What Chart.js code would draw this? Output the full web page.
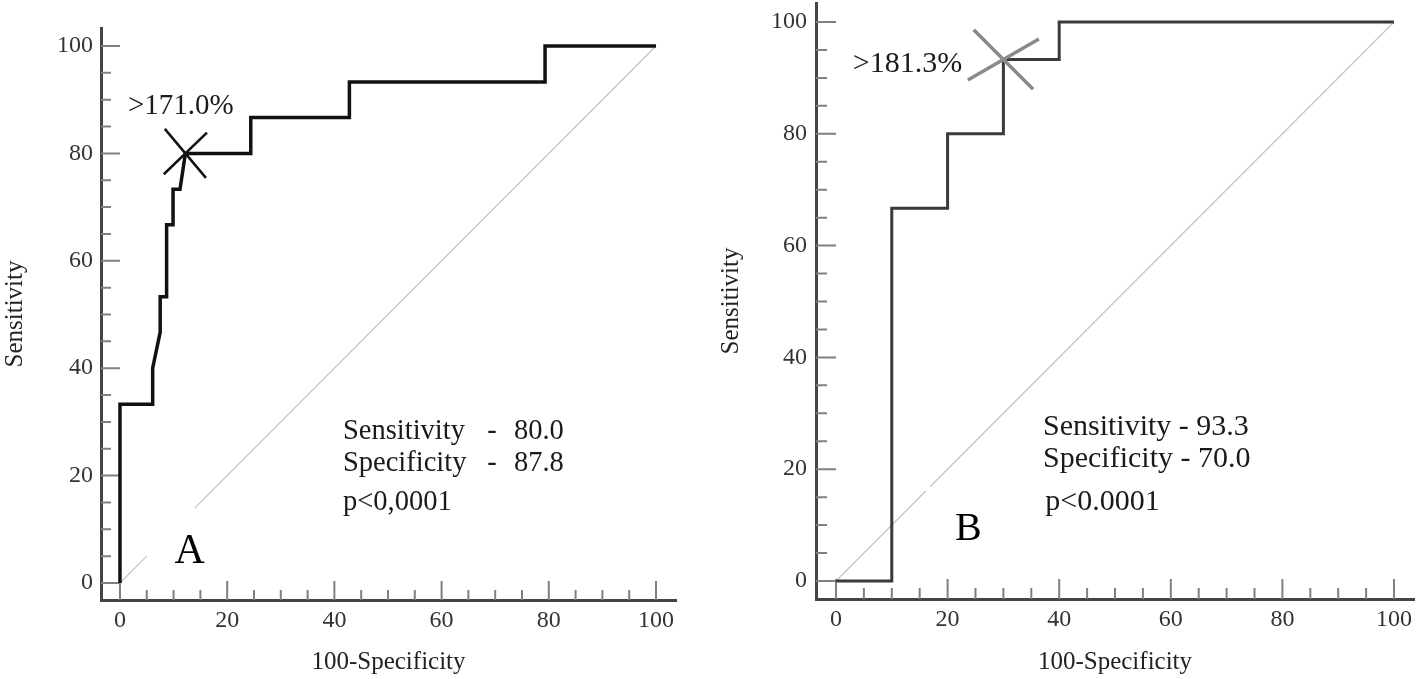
<!DOCTYPE html>
<html>
<head>
<meta charset="utf-8">
<script src="https://cdn.jsdelivr.net/npm/chart.js@4/dist/chart.umd.min.js"></script>
<style>
	body { margin: 0; background: #fff; overflow: hidden; }
	.box { position: absolute; top: 0; height: 679px; }
	#boxA { left: 0; width: 700px; }
	#boxB { left: 700px; width: 718px; }
</style>
</head>
<body>
<div id="boxA" class="box"><canvas id="rocA"></canvas></div>
<div id="boxB" class="box"><canvas id="rocB"></canvas></div>
<script>
// axis labels
var tickValues = [0, 20, 40, 60, 80, 100];

// panel A : ROC curve (100-specificity vs sensitivity)
var fprA  = [0, 0, 6.1, 6.1, 7.5, 7.5, 8.7, 8.7, 9.9, 9.9, 11.2, 12.2, 24.4, 24.4, 42.8, 42.8, 79.3, 79.3, 100];
var sensA = [0, 33.3, 33.3, 40.0, 46.7, 53.3, 53.3, 66.7, 66.7, 73.3, 73.3, 80.0, 80.0, 86.7, 86.7, 93.3, 93.3, 100, 100];
var cutA  = [12.2, 80.0];

// panel B
var fprB  = [0, 10, 10, 20, 20, 30, 30, 40, 40, 100];
var sensB = [0, 0, 66.7, 66.7, 80.0, 80.0, 93.3, 93.3, 100, 100];
var cutB  = [30, 93.3];

// chance diagonal (broken where the labels sit)
var refXA = [0, 5, 9, 13.9, 100];
var refYA = [0, 5, null, 13.9, 100];
var refXB = [0, 16.1, 16.5, 16.9, 100];
var refYB = [0, 16.1, null, 16.9, 100];

var serif = "'Liberation Serif', 'Times New Roman', serif";

function pts(xs, ys) {
	return xs.map(function(x, i) { return { x : x, y : ys[i] }; });
}

var innerTicks = {
	id : "innerTicks",
	beforeDatasetsDraw : function(chart, args, opts) {
		var ctx = chart.ctx, xs = chart.scales.x, ys = chart.scales.y, area = chart.chartArea;
		ctx.save();
		ctx.strokeStyle = opts.color;
		ctx.lineWidth = opts.width;
		ctx.beginPath();
		for (var v = 0; v <= 100; v += 5) {
			var len = v % 20 === 0 ? opts.major : opts.minor;
			var px = xs.getPixelForValue(v), py = ys.getPixelForValue(v);
			ctx.moveTo(px, area.bottom);
			ctx.lineTo(px, area.bottom - len);
			ctx.moveTo(area.left, py);
			ctx.lineTo(area.left + len, py);
		}
		ctx.stroke();
		ctx.restore();
	}
};

var rocText = {
	id : "rocText",
	afterDatasetsDraw : function(chart, args, opts) {
		var ctx = chart.ctx, xs = chart.scales.x, ys = chart.scales.y;
		ctx.save();
		ctx.textBaseline = "alphabetic";
		opts.items.forEach(function(t) {
			ctx.font = t.size + "px " + serif;
			ctx.fillStyle = t.color || "#1a1a1a";
			ctx.textAlign = t.align || "left";
			ctx.fillText(t.text, xs.getPixelForValue(t.x), ys.getPixelForValue(t.y));
		});
		ctx.restore();
	}
};

function makeChart(id, p) {
	var tickFont = { family : serif, size : 24 };
	var titleFont = { family : serif, size : 25 };
	return new Chart(document.getElementById(id), {
		type : "line",
		data : {
			datasets : [
				{
					data : [ { x : p.cut[0], y : p.cut[1] } ],
					showLine : false,
					pointStyle : "line",
					pointRadius : p.arm1[1],
					pointRotation : p.arm1[0],
					pointBorderColor : p.markColor,
					pointBorderWidth : p.markWidth
				},
				{
					data : [ { x : p.cut[0], y : p.cut[1] } ],
					showLine : false,
					pointStyle : "line",
					pointRadius : p.arm2[1],
					pointRotation : p.arm2[0],
					pointBorderColor : p.markColor,
					pointBorderWidth : p.markWidth
				},
				{
					data : pts(p.fpr, p.sens),
					borderColor : p.lineColor,
					borderWidth : p.lineWidth,
					borderJoinStyle : "miter",
					pointRadius : 0,
					tension : 0,
					fill : false
				},
				{
					data : pts(p.refX, p.refY),
					borderColor : "#c4c4c4",
					borderWidth : 1.3,
					pointRadius : 0,
					spanGaps : false,
					fill : false
				}
			]
		},
		options : {
			responsive : true,
			maintainAspectRatio : false,
			animation : false,
			layout : { padding : p.pad, autoPadding : false },
			plugins : {
				legend : { display : false },
				tooltip : { enabled : false },
				innerTicks : { color : "#808080", width : 2, major : p.major, minor : p.minor },
				rocText : { items : p.texts }
			},
			scales : {
				x : {
					type : "linear",
					min : p.xRange[0],
					max : p.xRange[1],
					grid : { display : false, drawTicks : false },
					border : { display : true, color : "#444", width : 3 },
					ticks : { font : tickFont, color : "#333", padding : 6 },
					afterBuildTicks : function(axis) { axis.ticks = tickValues.map(function(v) { return { value : v }; }); },
					afterFit : function(axis) {
						axis.height = p.xAxisH;
						axis.paddingLeft = 0;
						axis.paddingRight = 0;
					},
					title : { display : true, text : "100-Specificity", font : titleFont, color : "#222", padding : { top : 0, bottom : 2 } }
				},
				y : {
					type : "linear",
					min : p.yRange[0],
					max : p.yRange[1],
					grid : { display : false, drawTicks : false },
					border : { display : true, color : "#444", width : 3 },
					ticks : { font : tickFont, color : "#333", padding : p.yPad },
					afterBuildTicks : function(axis) { axis.ticks = tickValues.map(function(v) { return { value : v }; }); },
					afterFit : function(axis) {
						axis.width = p.yAxisW;
						axis.paddingTop = 0;
						axis.paddingBottom = 0;
					},
					title : { display : true, text : "Sensitivity", font : titleFont, color : "#222", padding : { top : p.yTitlePad, bottom : 0 } }
				}
			}
		},
		plugins : [ innerTicks, rocText ]
	});
}

makeChart("rocA", {
	fpr : fprA, sens : sensA, cut : cutA, refX : refXA, refY : refYA,
	xRange : [-3.54, 103.73], yRange : [-3.17, 103.35],
	pad : { left : 0, right : 24, top : 28, bottom : 0 },
	xAxisH : 79, yAxisW : 101, yPad : 8, yTitlePad : 0,
	major : 19, minor : 10,
	lineColor : "#111", lineWidth : 3.5,
	markColor : "#111", markWidth : 2.5,
	arm1 : [50, 32], arm2 : [-44, 30],
	texts : [
		{ text : ">171.0%", x : 1.5, y : 87.3, size : 29 },
		{ text : "Sensitivity", x : 41.6, y : 26.8, size : 28.5 },
		{ text : "-", x : 68.5, y : 26.8, size : 28.5 },
		{ text : "80.0", x : 73.5, y : 26.8, size : 28.5 },
		{ text : "Specificity", x : 41.6, y : 20.9, size : 28.5 },
		{ text : "-", x : 68.5, y : 20.9, size : 28.5 },
		{ text : "87.8", x : 73.5, y : 20.9, size : 28.5 },
		{ text : "p<0,0001", x : 41.6, y : 13.6, size : 28.5 },
		{ text : "A", x : 13.0, y : 3.7, size : 42, align : "center", color : "#000" }
	]
});

makeChart("rocB", {
	fpr : fprB, sens : sensB, cut : cutB, refX : refXB, refY : refYB,
	xRange : [-3.58, 103.58], yRange : [-3.22, 103.4],
	pad : { left : 0, right : 4, top : 3, bottom : 0 },
	xAxisH : 80, yAxisW : 116, yPad : 9, yTitlePad : 16,
	major : 20, minor : 11,
	lineColor : "#3a3a3a", lineWidth : 3,
	markColor : "#8a8a8a", markWidth : 3.5,
	arm1 : [45, 42], arm2 : [-30, 41],
	texts : [
		{ text : ">181.3%", x : 3.0, y : 91.1, size : 30 },
		{ text : "Sensitivity - 93.3", x : 37.1, y : 26.1, size : 30 },
		{ text : "Specificity - 70.0", x : 37.1, y : 20.4, size : 30 },
		{ text : "p<0.0001", x : 37.5, y : 12.7, size : 30 },
		{ text : "B", x : 23.7, y : 7.3, size : 40, align : "center", color : "#000" }
	]
});
</script>
</body>
</html>
